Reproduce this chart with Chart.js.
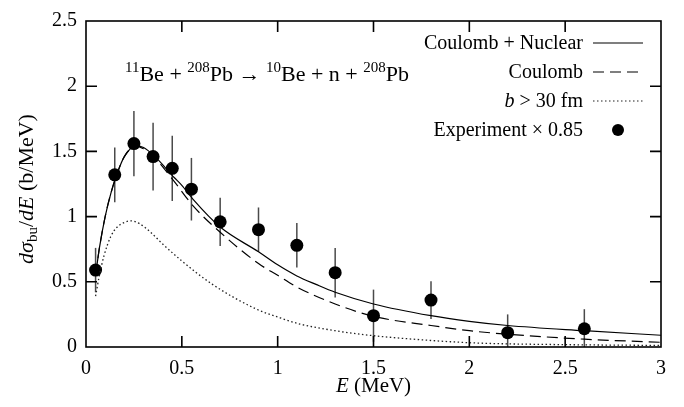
<!DOCTYPE html>
<html>
<head>
<meta charset="utf-8">
<script src="https://cdn.jsdelivr.net/npm/chart.js@4.4.1/dist/chart.umd.min.js"></script>
<style>
  html, body { margin: 0; padding: 0; background: #fff; }
</style>
</head>
<body>
<canvas id="chart" width="684" height="407"></canvas>
<script>
// measured breakup spectrum (scaled by 0.85)
const expE   = [0.05, 0.15, 0.25, 0.35, 0.45, 0.55, 0.7, 0.9, 1.1, 1.3, 1.5, 1.8, 2.2, 2.6];
const expVal = [0.59, 1.32, 1.56, 1.46, 1.37, 1.21, 0.96, 0.90, 0.78, 0.57, 0.24, 0.36, 0.11, 0.14];
const expErr = [0.17, 0.21, 0.25, 0.26, 0.25, 0.24, 0.185, 0.17, 0.17, 0.19, 0.20, 0.145, 0.14, 0.15];

// Coulomb + Nuclear calculation
const cnE   = [0.05, 0.07, 0.1, 0.13, 0.16, 0.2, 0.26, 0.3, 0.36, 0.46, 0.5, 0.56, 0.7, 0.9, 1.0, 1.1, 1.2, 1.3, 1.5, 1.8, 2.0, 2.2, 2.6, 3.0];
const cnVal = [0.55, 0.76, 1.0, 1.18, 1.32, 1.46, 1.54, 1.53, 1.46, 1.30, 1.24, 1.13, 0.92, 0.73, 0.63, 0.545, 0.48, 0.42, 0.33, 0.24, 0.197, 0.165, 0.125, 0.09];

// Coulomb only
const cE   = [0.05, 0.07, 0.1, 0.13, 0.16, 0.2, 0.26, 0.3, 0.36, 0.46, 0.56, 0.7, 0.9, 1.0, 1.1, 1.3, 1.5, 1.8, 2.0, 2.2, 2.6, 3.0];
const cVal = [0.55, 0.76, 1.0, 1.18, 1.32, 1.46, 1.54, 1.52, 1.45, 1.27, 1.08, 0.88, 0.64, 0.55, 0.46, 0.33, 0.235, 0.165, 0.125, 0.098, 0.06, 0.036];

// impact parameter cut b > 30 fm
const bE   = [0.05, 0.07, 0.094, 0.13, 0.163, 0.2, 0.233, 0.28, 0.337, 0.4, 0.5, 0.66, 0.89, 1.0, 1.116, 1.3, 1.46, 1.8, 2.05, 2.5, 3.0];
const bVal = [0.39, 0.55, 0.70, 0.85, 0.92, 0.955, 0.967, 0.945, 0.88, 0.79, 0.66, 0.48, 0.29, 0.23, 0.176, 0.125, 0.093, 0.05, 0.03, 0.018, 0.012];

const xTicks = [0, 0.5, 1, 1.5, 2, 2.5, 3];
const yTicks = [0, 0.5, 1, 1.5, 2, 2.5];

const SERIF = '"Liberation Serif", "Times New Roman", serif';
const pts = (xs, ys) => xs.map((x, i) => ({ x, y: ys[i] }));

// draw a run of text pieces (font, vertical shift) one after another
function richText(ctx, parts, x, y, align) {
  let w = 0;
  parts.forEach(p => { ctx.font = p.f; w += ctx.measureText(p.t).width; });
  let cx = align === 'center' ? x - w / 2 : align === 'right' ? x - w : x;
  ctx.textAlign = 'left';
  ctx.textBaseline = 'alphabetic';
  parts.forEach(p => {
    ctx.font = p.f;
    ctx.fillText(p.t, cx, y + (p.dy || 0));
    cx += ctx.measureText(p.t).width;
  });
}

const N = `20px ${SERIF}`;
const I = `italic 20px ${SERIF}`;
const A = `22px ${SERIF}`;
const S = `15px ${SERIF}`;

const errorBars = {
  id: 'errorBars',
  beforeDatasetsDraw(chart) {
    const { ctx, chartArea, scales: { x, y } } = chart;
    ctx.save();
    ctx.beginPath();
    ctx.rect(chartArea.left, chartArea.top, chartArea.width, chartArea.height);
    ctx.clip();
    ctx.strokeStyle = '#4a4a4a';
    ctx.lineWidth = 1.5;
    expE.forEach((e, i) => {
      const px = x.getPixelForValue(e);
      ctx.beginPath();
      ctx.moveTo(px, y.getPixelForValue(expVal[i] - expErr[i]));
      ctx.lineTo(px, y.getPixelForValue(expVal[i] + expErr[i]));
      ctx.stroke();
    });
    ctx.restore();
  }
};

const frame = {
  id: 'frame',
  afterDraw(chart) {
    const { ctx, chartArea: a, scales: { x, y } } = chart;
    ctx.save();
    ctx.strokeStyle = '#000';
    ctx.lineWidth = 1.6;
    ctx.strokeRect(a.left, a.top, a.right - a.left, a.bottom - a.top);
    const len = 11;
    ctx.beginPath();
    xTicks.slice(1, -1).forEach(v => {
      const px = x.getPixelForValue(v);
      ctx.moveTo(px, a.bottom); ctx.lineTo(px, a.bottom - len);
      ctx.moveTo(px, a.top); ctx.lineTo(px, a.top + len);
    });
    yTicks.slice(1, -1).forEach(v => {
      const py = y.getPixelForValue(v);
      ctx.moveTo(a.left, py); ctx.lineTo(a.left + len, py);
      ctx.moveTo(a.right, py); ctx.lineTo(a.right - len, py);
    });
    ctx.stroke();

    ctx.fillStyle = '#000';
    // reaction label
    richText(ctx, [
      { t: '11', f: S, dy: -9 }, { t: 'Be + ', f: A },
      { t: '208', f: S, dy: -9 }, { t: 'Pb \u2192 ', f: A },
      { t: '10', f: S, dy: -9 }, { t: 'Be + n + ', f: A },
      { t: '208', f: S, dy: -9 }, { t: 'Pb', f: A }
    ], 125, 81, 'left');

    // legend
    const tx = 583, lx0 = 593, lx1 = 643;
    const rows = [43, 72, 101, 130];
    richText(ctx, [{ t: 'Coulomb + Nuclear', f: N }], tx, rows[0] + 6, 'right');
    richText(ctx, [{ t: 'Coulomb', f: N }], tx, rows[1] + 6, 'right');
    richText(ctx, [{ t: 'b', f: I }, { t: ' > 30 fm', f: N }], tx, rows[2] + 6, 'right');
    richText(ctx, [{ t: 'Experiment \u00d7 0.85', f: N }], tx, rows[3] + 6, 'right');
    ctx.lineWidth = 1.1;
    ctx.beginPath(); ctx.moveTo(lx0, rows[0]); ctx.lineTo(lx1, rows[0]); ctx.stroke();
    ctx.setLineDash([11, 6]);
    ctx.beginPath(); ctx.moveTo(lx0, rows[1]); ctx.lineTo(lx1, rows[1]); ctx.stroke();
    ctx.setLineDash([1.5, 2.5]);
    ctx.strokeStyle = '#222';
    ctx.beginPath(); ctx.moveTo(lx0, rows[2]); ctx.lineTo(lx1, rows[2]); ctx.stroke();
    ctx.setLineDash([]);
    ctx.beginPath(); ctx.arc(618, rows[3], 6, 0, Math.PI * 2); ctx.fill();

    // axis titles
    richText(ctx, [{ t: 'E', f: `italic 21px ${SERIF}` }, { t: ' (MeV)', f: `21px ${SERIF}` }],
      (a.left + a.right) / 2, 392, 'center');
    ctx.translate(33, (a.top + a.bottom) / 2 + 5);
    ctx.rotate(-Math.PI / 2);
    richText(ctx, [
      { t: 'd\u03c3', f: `italic 22px ${SERIF}` }, { t: 'bu', f: `15px ${SERIF}`, dy: 4 },
      { t: '/', f: `22px ${SERIF}` }, { t: 'dE', f: `italic 22px ${SERIF}` },
      { t: ' (b/MeV)', f: `22px ${SERIF}` }
    ], 0, 0, 'center');
    ctx.restore();
  }
};

new Chart(document.getElementById('chart').getContext('2d'), {
  type: 'line',
  data: {
    datasets: [
      { label: 'Coulomb + Nuclear', data: pts(cnE, cnVal), borderColor: '#000', borderWidth: 1.2,
        pointRadius: 0, cubicInterpolationMode: 'monotone', fill: false },
      { label: 'Coulomb', data: pts(cE, cVal), borderColor: '#000', borderWidth: 1.2,
        borderDash: [11, 6], pointRadius: 0, cubicInterpolationMode: 'monotone', fill: false },
      { label: 'b > 30 fm', data: pts(bE, bVal), borderColor: '#222', borderWidth: 1.3,
        borderDash: [1.5, 2.5], pointRadius: 0, cubicInterpolationMode: 'monotone', fill: false },
      { label: 'Experiment \u00d7 0.85', data: pts(expE, expVal), showLine: false,
        pointRadius: 6.5, pointBackgroundColor: '#000', pointBorderColor: '#000', borderWidth: 0 }
    ]
  },
  options: {
    responsive: false,
    devicePixelRatio: 1,
    animation: false,
    layout: { padding: { left: 0, top: 15, right: 23, bottom: 0 } },
    plugins: { legend: { display: false }, tooltip: { enabled: false } },
    scales: {
      x: {
        type: 'linear', min: 0, max: 3,
        afterFit: s => { s.height = 60; },
        afterBuildTicks: s => { s.ticks = xTicks.map(v => ({ value: v })); },
        grid: { display: false, drawTicks: false },
        border: { display: false },
        ticks: { padding: 10, color: '#000', font: { family: SERIF, size: 20 }, maxRotation: 0,
                 callback: v => String(v) }
      },
      y: {
        type: 'linear', min: 0, max: 2.5,
        afterFit: s => { s.width = 86; },
        afterBuildTicks: s => { s.ticks = yTicks.map(v => ({ value: v })); },
        grid: { display: false, drawTicks: false },
        border: { display: false },
        ticks: { padding: 9, color: '#000', font: { family: SERIF, size: 20 },
                 callback: v => String(v) }
      }
    }
  },
  plugins: [errorBars, frame]
});
</script>
</body>
</html>
